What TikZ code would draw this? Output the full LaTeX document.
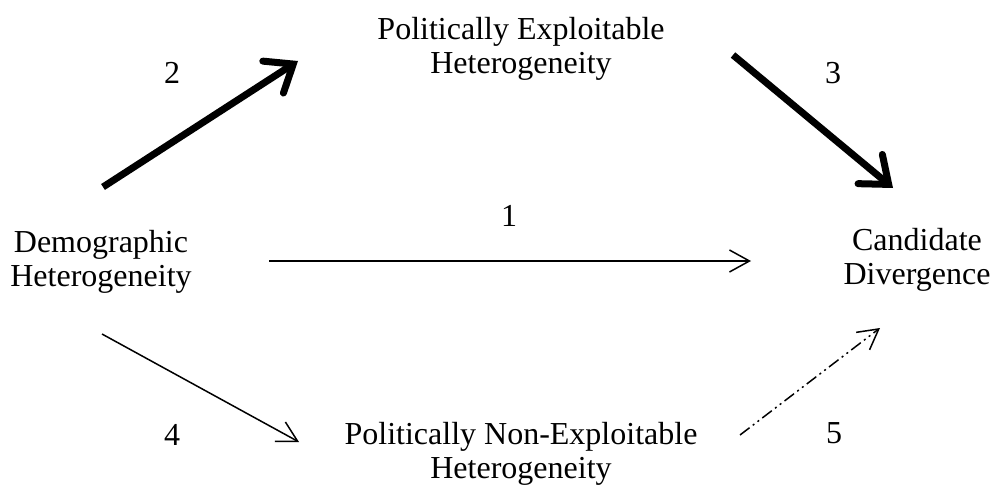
\documentclass[tikz,border=0pt]{standalone}
\usepackage{fontspec}
\setmainfont{Liberation Serif}
\usetikzlibrary{arrows.meta}
\begin{document}
\begin{tikzpicture}[x=1pt,y=-1pt,
  lbl/.style={font=\fontsize{32}{34}\selectfont, align=center, inner sep=0pt},
  num/.style={font=\fontsize{32}{34}\selectfont, inner sep=0pt},
  thickarrow/.style={line width=7pt, -{Straight Barb[length=24pt,width=38pt,line cap=round]}},
  thinarrow/.style={line width=1.5pt, -{Straight Barb[length=20pt,width=22pt]}},
  dotarrow/.style={line width=1.5pt, dash pattern=on 12pt off 4pt on 2pt off 4pt on 2pt off 4pt, -{Straight Barb[length=20pt,width=22pt]}}]
\useasboundingbox (0,0) rectangle (995,487);
\node[lbl] (dem) at (101,262) {Demographic\\Heterogeneity};
\node[lbl] (pe) at (521,49) {Politically Exploitable\\Heterogeneity};
\node[lbl] (cd) at (917,260) {Candidate\\Divergence};
\node[lbl] (pne) at (521,454) {Politically Non-Exploitable\\Heterogeneity};
\node[num] (n1) at (509,216) {1};
\node[num] (n2) at (172,73) {2};
\node[num] (n3) at (833,73) {3};
\node[num] (n4) at (172,435) {4};
\node[num] (n5) at (834,433) {5};
\coordinate (a2s) at (103,187);
\coordinate (a2e) at (298,61);
\coordinate (a3s) at (733,55);
\coordinate (a3e) at (893,188);
\coordinate (a1s) at (269,261);
\coordinate (a1e) at (751,261);
\coordinate (a4s) at (102,334);
\coordinate (a4e) at (299,442);
\coordinate (a5s) at (740,435);
\coordinate (a5e) at (880,328);
\draw[thickarrow] (a2s) -- (a2e);
\draw[thickarrow] (a3s) -- (a3e);
\draw[thinarrow] (a1s) -- (a1e);
\draw[thinarrow] (a4s) -- (a4e);
\draw[dotarrow] (a5s) -- (a5e);
\end{tikzpicture}
\end{document}
